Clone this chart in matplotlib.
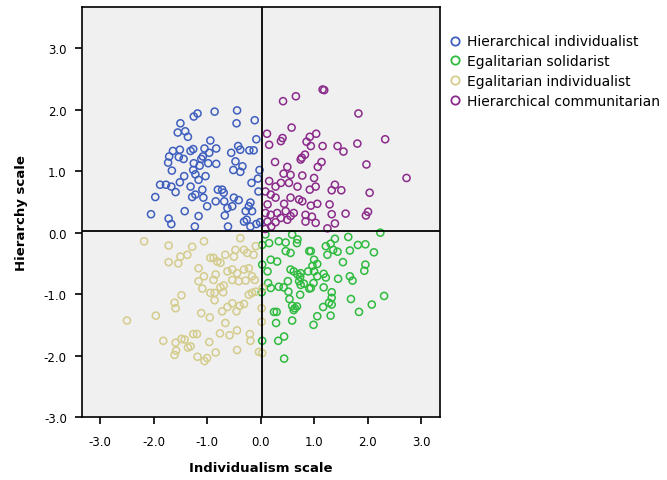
import matplotlib
matplotlib.use('Agg')
import matplotlib.pyplot as plt
from matplotlib.lines import Line2D
from matplotlib.ticker import FormatStrFormatter

plt.rcParams['axes.unicode_minus'] = False

# ==================== data ====================
# Hierarchical individualist
hi_x = [-1.18, -0.86, -0.44, -0.45, -0.11, -0.94, -1.26, -1.05, -0.83, -0.96,
        -1.08, -1.11, -0.42, -0.38, -0.55, -0.21, -0.13, -0.08, -1.25, -1.14,
        -0.98, -0.83, -0.47, -0.34, -0.51, -0.38, -0.02, -1.22, -1.03, -1.16,
        -0.05, -1.25, -1.50, -1.55, -1.41, -1.36, -1.64, -1.51, -1.53, -1.44,
        -1.31, -1.71, -1.73, -1.66, -1.26, -1.43, -1.88, -1.77, -1.67, -1.51,
        -1.59, -1.97, -1.28, -1.42, -2.05, -1.72, -1.67, -1.23, -1.31, -1.22,
        -1.09, -1.07, -0.80, -0.72, -0.69, -0.84, -0.68, -0.62, -0.53, -0.50,
        -0.41, -0.17, -0.04, -0.19, -0.22, -0.28, -0.16, -0.26, -0.31, -1.00,
        -1.16, -0.67, -0.61, -0.19, -0.08, -0.01]
hi_y = [1.94, 1.97, 1.99, 1.78, 1.83, 1.50, 1.36, 1.37, 1.37, 1.30,
        1.24, 1.20, 1.41, 1.35, 1.30, 1.34, 1.34, 1.52, 1.13, 1.09,
        1.13, 1.12, 1.16, 1.08, 1.02, 0.99, 1.02, 0.95, 0.92, 0.86,
        0.88, 1.89, 1.78, 1.63, 1.65, 1.56, 1.33, 1.35, 1.23, 1.20,
        1.33, 1.24, 1.14, 1.01, 1.02, 0.92, 0.78, 0.78, 0.75, 0.82,
        0.66, 0.58, 0.58, 0.35, 0.30, 0.23, 0.14, 0.10, 0.75, 0.62,
        0.70, 0.57, 0.70, 0.70, 0.65, 0.51, 0.51, 0.40, 0.43, 0.57,
        0.53, 0.81, 0.67, 0.49, 0.43, 0.35, 0.35, 0.21, 0.18, 0.43,
        0.27, 0.28, 0.10, 0.10, 0.14, 0.17]

# Egalitarian solidarist
es_x = [0.09, 0.16, 0.34, 0.47, 0.59, 0.03, 0.68, 0.69, 0.91, 0.19,
        0.31, 0.47, 0.56, 0.03, 0.13, 0.56, 0.62, 0.69, 0.75, 0.74,
        0.89, 2.24, 1.39, 1.64, 1.22, 1.31, 1.36, 1.44, 1.25, 1.82,
        1.96, 1.67, 2.12, 0.94, 1.00, 1.06, 0.97, 1.54, 1.96, 1.94,
        1.18, 1.22, 1.00, 1.06, 1.45, 1.67, 0.14, 0.19, 0.34, 0.43,
        0.51, 0.72, 0.75, 0.81, 0.99, 0.91, 0.52, 0.02, 0.74, 0.54,
        0.59, 0.64, 0.68, 0.62, 0.25, 0.30, 1.06, 0.99, 0.59, 0.29,
        0.03, 0.44, 0.33, 0.44, 0.94, 1.18, 1.72, 1.33, 1.33, 1.28,
        1.33, 1.17, 1.69, 2.31, 2.08, 1.84, 1.31]
es_y = [-0.03, -0.17, -0.14, -0.16, -0.03, -0.20, -0.17, -0.11, -0.30, -0.44,
        -0.47, -0.30, -0.33, -0.52, -0.63, -0.60, -0.63, -0.68, -0.66, -0.72,
        -0.63, 0.00, -0.10, -0.07, -0.22, -0.18, -0.28, -0.31, -0.36, -0.20,
        -0.19, -0.29, -0.32, -0.30, -0.44, -0.51, -0.54, -0.48, -0.52, -0.62,
        -0.67, -0.73, -0.63, -0.71, -0.75, -0.71, -0.82, -0.90, -0.88, -0.89,
        -0.79, -0.79, -0.85, -0.83, -0.82, -0.91, -0.96, -0.97, -1.01, -1.08,
        -1.19, -1.23, -1.20, -1.26, -1.29, -1.29, -1.36, -1.50, -1.43, -1.47,
        -1.76, -1.69, -1.76, -2.05, -0.90, -0.89, -0.78, -0.97, -1.06, -1.14,
        -1.17, -1.21, -1.08, -1.03, -1.17, -1.29, -1.35]

# Egalitarian individualist
ei_x = [-2.18, -1.72, -1.50, -1.37, -1.72, -1.54, -1.28, -1.06, -0.38, -0.47,
        -0.31, -0.25, -0.66, -0.50, -0.09, -0.13, -0.94, -0.88, -0.81, -0.75,
        -1.16, -0.84, -0.62, -0.53, -0.44, -0.31, -0.22, -0.16, -1.06, -1.48,
        -1.61, -1.59, -1.96, -2.50, -1.26, -1.82, -1.59, -1.48, -1.42, -1.36,
        -1.58, -1.61, -1.16, -1.09, -0.88, -0.75, -0.69, -0.53, -0.41, -0.28,
        -0.11, 0.04, -0.94, -0.86, -0.70, -0.86, -0.22, -0.16, -0.09, -0.62,
        -0.53, -0.39, -0.31, -0.72, -0.45, -1.11, -0.95, 0.02, -0.66, 0.02,
        -1.19, -0.76, -0.58, -0.44, -0.20, -0.19, -0.96, -0.44, -0.84, -0.03,
        0.03, -1.18, -1.05, -1.00, -1.31]
ei_y = [-0.14, -0.21, -0.39, -0.36, -0.48, -0.50, -0.23, -0.14, -0.09, -0.28,
        -0.28, -0.33, -0.36, -0.39, -0.22, -0.36, -0.41, -0.41, -0.47, -0.49,
        -0.58, -0.68, -0.63, -0.60, -0.66, -0.60, -0.58, -0.71, -0.71, -1.02,
        -1.14, -1.23, -1.35, -1.43, -1.65, -1.76, -1.79, -1.73, -1.74, -1.87,
        -1.92, -1.99, -0.79, -0.91, -0.77, -0.89, -0.86, -0.77, -0.79, -0.78,
        -0.77, -0.90, -0.98, -0.98, -0.97, -1.10, -1.01, -0.98, -0.96, -1.21,
        -1.15, -1.19, -1.16, -1.28, -1.28, -1.31, -1.38, -1.23, -1.47, -1.45,
        -1.65, -1.64, -1.67, -1.59, -1.65, -1.76, -1.78, -1.91, -1.95, -1.94,
        -1.96, -2.02, -2.09, -2.04, -1.85]

# Hierarchical communitarian
hc_x = [0.42, 0.66, 0.12, 0.16, 0.38, 0.41, 0.58, 0.92, 1.04, 0.86,
        0.94, 0.27, 0.77, 0.83, 0.75, 0.50, 1.07, 0.43, 0.56, 0.78,
        1.00, 1.16, 1.19, 1.83, 1.16, 1.44, 1.55, 1.81, 2.33, 1.14,
        1.98, 2.73, 1.03, 1.39, 1.33, 1.51, 2.04, 1.06, 0.94, 1.29,
        1.33, 1.59, 2.01, 1.97, 0.96, 1.03, 1.39, 1.25, 0.16, 0.28,
        0.38, 0.53, 0.69, 0.92, 0.09, 0.19, 0.28, 0.56, 0.72, 0.44,
        0.13, 0.78, 0.09, 0.19, 0.31, 0.47, 0.56, 0.62, 0.38, 0.50,
        0.84, 0.84, 0.13, 0.20, 0.28, 0.09]
hc_y = [2.14, 2.22, 1.61, 1.43, 1.49, 1.54, 1.71, 1.56, 1.61, 1.48,
        1.41, 1.15, 1.22, 1.27, 1.19, 1.07, 1.07, 0.96, 0.94, 0.93,
        0.89, 2.33, 2.32, 1.94, 1.41, 1.41, 1.32, 1.45, 1.52, 1.15,
        1.11, 0.89, 0.75, 0.78, 0.69, 0.69, 0.65, 0.47, 0.44, 0.46,
        0.30, 0.31, 0.34, 0.28, 0.26, 0.16, 0.15, 0.07, 0.84, 0.75,
        0.81, 0.81, 0.75, 0.70, 0.67, 0.62, 0.57, 0.57, 0.54, 0.47,
        0.46, 0.51, 0.32, 0.29, 0.32, 0.35, 0.27, 0.32, 0.24, 0.21,
        0.29, 0.18, 0.18, 0.10, 0.17, 0.06]

labels = ['Hierarchical individualist', 'Egalitarian solidarist',
          'Egalitarian individualist', 'Hierarchical communitarian']
colors = ['#3f5fbf', '#2fbb3f', '#d4cc8c', '#8b2b8b']
xs = [hi_x, es_x, ei_x, hc_x]
ys = [hi_y, es_y, ei_y, hc_y]

# ==================== figure ====================
fig = plt.figure(figsize=(6.67, 4.81), dpi=100)
ax = fig.add_axes([0.123, 0.131, 0.537, 0.852])
ax.set_facecolor('#f0f0f0')

for x, y, c, lab in zip(xs, ys, colors, labels):
    ax.scatter(x, y, s=26, facecolors='none', edgecolors=c, linewidths=1.1,
               label=lab, zorder=3)

# reference lines through the origin
ax.axvline(0.02, color='black', linewidth=1.3, zorder=4)
ax.axhline(0.03, color='black', linewidth=1.3, zorder=4)

ax.set_xlim(-3.34, 3.36)
ax.set_ylim(-3.0, 3.67)
ax.set_xticks(range(-3, 4))
ax.set_yticks(range(-3, 4))
ax.xaxis.set_major_formatter(FormatStrFormatter('%.1f'))
ax.yaxis.set_major_formatter(FormatStrFormatter('%.1f'))
ax.tick_params(direction='out', length=5, width=1.2, labelsize=8.5,
               colors='black', pad=6)
ax.tick_params(axis='x', pad=8)
for sp in ax.spines.values():
    sp.set_linewidth(1.2)
    sp.set_color('black')

ax.set_xlabel('Individualism scale', fontsize=9.5, fontweight='bold', labelpad=9)
ax.set_ylabel('Hierarchy scale', fontsize=9.5, fontweight='bold', labelpad=11)

# legend outside on the right
handles = [Line2D([], [], linestyle='none', marker='o', markersize=6,
                  markerfacecolor='none', markeredgecolor=c, markeredgewidth=1.3)
           for c in colors]
fig.legend(handles, labels, loc='upper left', bbox_to_anchor=(0.663, 0.938),
           frameon=False, fontsize=10, labelspacing=0.42, handlelength=1.0,
           handletextpad=0.4, borderaxespad=0)

plt.savefig('out.png', dpi=100)
plt.close()
